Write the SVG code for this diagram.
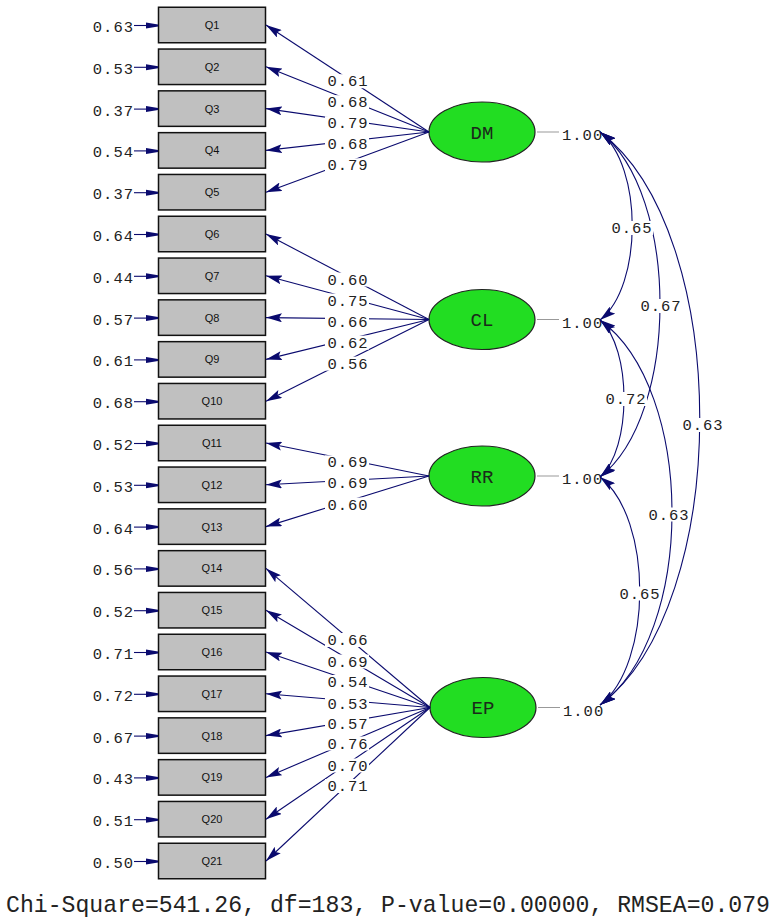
<svg xmlns="http://www.w3.org/2000/svg" width="777" height="923" viewBox="0 0 777 923">
<style>
.box{fill:#c0c0c0;stroke:#111;stroke-width:1.5}
.lat{fill:#22dd22;stroke:#222;stroke-width:1.2}
.ln{stroke:#0a0a6e;stroke-width:1.1;fill:none}
.gl{stroke:#999;stroke-width:1;fill:none}
.num{font-family:"Liberation Mono","DejaVu Sans Mono",monospace;font-size:15.5px;letter-spacing:1px;fill:#222}
.mid{text-anchor:middle}
.end{text-anchor:end}
.qt{font-family:"Liberation Sans",Arial,sans-serif;font-size:11px;fill:#111;text-anchor:middle}
.lt{font-family:"Liberation Mono","DejaVu Sans Mono",monospace;font-size:19px;fill:#1a2a1a;text-anchor:middle}
.bg{fill:#fff}
.fit{font-family:"Liberation Mono","DejaVu Sans Mono",monospace;font-size:23.2px;fill:#222}
</style>
<defs>
<marker id="ah" viewBox="0 0 16 9" refX="16" refY="4.5" markerWidth="16" markerHeight="9" markerUnits="userSpaceOnUse" orient="auto-start-reverse"><path d="M0,0 L16,4.5 L0,9 L3,4.5 z" fill="#0a0a6e"/></marker>
<marker id="eh" viewBox="0 0 12 7" refX="12" refY="3.5" markerWidth="12" markerHeight="7" markerUnits="userSpaceOnUse" orient="auto"><path d="M0,0.5 L12,2.5 L12,4.5 L0,6.5 z" fill="#0a0a6e"/></marker>
</defs>
<rect width="777" height="923" fill="#fff"/>
<g id="nodes">
<g id="Q1"><rect class="box" x="158.5" y="7.25" width="107" height="35.5"/><text class="qt" x="212" y="29">Q1</text></g>
<g id="Q2"><rect class="box" x="158.5" y="49.05" width="107" height="35.5"/><text class="qt" x="212" y="70.8">Q2</text></g>
<g id="Q3"><rect class="box" x="158.5" y="90.85" width="107" height="35.5"/><text class="qt" x="212" y="112.6">Q3</text></g>
<g id="Q4"><rect class="box" x="158.5" y="132.65" width="107" height="35.5"/><text class="qt" x="212" y="154.4">Q4</text></g>
<g id="Q5"><rect class="box" x="158.5" y="174.45" width="107" height="35.5"/><text class="qt" x="212" y="196.2">Q5</text></g>
<g id="Q6"><rect class="box" x="158.5" y="216.25" width="107" height="35.5"/><text class="qt" x="212" y="238">Q6</text></g>
<g id="Q7"><rect class="box" x="158.5" y="258.05" width="107" height="35.5"/><text class="qt" x="212" y="279.8">Q7</text></g>
<g id="Q8"><rect class="box" x="158.5" y="299.85" width="107" height="35.5"/><text class="qt" x="212" y="321.6">Q8</text></g>
<g id="Q9"><rect class="box" x="158.5" y="341.65" width="107" height="35.5"/><text class="qt" x="212" y="363.4">Q9</text></g>
<g id="Q10"><rect class="box" x="158.5" y="383.45" width="107" height="35.5"/><text class="qt" x="212" y="405.2">Q10</text></g>
<g id="Q11"><rect class="box" x="158.5" y="425.25" width="107" height="35.5"/><text class="qt" x="212" y="447">Q11</text></g>
<g id="Q12"><rect class="box" x="158.5" y="467.05" width="107" height="35.5"/><text class="qt" x="212" y="488.8">Q12</text></g>
<g id="Q13"><rect class="box" x="158.5" y="508.85" width="107" height="35.5"/><text class="qt" x="212" y="530.6">Q13</text></g>
<g id="Q14"><rect class="box" x="158.5" y="550.65" width="107" height="35.5"/><text class="qt" x="212" y="572.4">Q14</text></g>
<g id="Q15"><rect class="box" x="158.5" y="592.45" width="107" height="35.5"/><text class="qt" x="212" y="614.2">Q15</text></g>
<g id="Q16"><rect class="box" x="158.5" y="634.25" width="107" height="35.5"/><text class="qt" x="212" y="656">Q16</text></g>
<g id="Q17"><rect class="box" x="158.5" y="676.05" width="107" height="35.5"/><text class="qt" x="212" y="697.8">Q17</text></g>
<g id="Q18"><rect class="box" x="158.5" y="717.85" width="107" height="35.5"/><text class="qt" x="212" y="739.6">Q18</text></g>
<g id="Q19"><rect class="box" x="158.5" y="759.65" width="107" height="35.5"/><text class="qt" x="212" y="781.4">Q19</text></g>
<g id="Q20"><rect class="box" x="158.5" y="801.45" width="107" height="35.5"/><text class="qt" x="212" y="823.2">Q20</text></g>
<g id="Q21"><rect class="box" x="158.5" y="843.25" width="107" height="35.5"/><text class="qt" x="212" y="865">Q21</text></g>
<g id="DM"><ellipse class="lat" cx="482" cy="132" rx="53" ry="30"/><text class="lt" x="482" y="138.5">DM</text></g>
<g id="CL"><ellipse class="lat" cx="482" cy="319.5" rx="53" ry="30"/><text class="lt" x="482" y="326">CL</text></g>
<g id="RR"><ellipse class="lat" cx="482" cy="476" rx="53" ry="30"/><text class="lt" x="482" y="482.5">RR</text></g>
<g id="EP"><ellipse class="lat" cx="483" cy="707.5" rx="53" ry="30"/><text class="lt" x="483" y="714">EP</text></g>
</g>
<g id="variances">
<path class="gl" d="M537,132 H559 M537,319.5 H559 M537,476 H559 M538,707.5 H560"/>
<text class="num" x="562" y="140">1.00</text>
<text class="num" x="562" y="327.5">1.00</text>
<text class="num" x="562" y="484">1.00</text>
<text class="num" x="563" y="715.5">1.00</text>
</g>
<g id="connectors">
<g class="ln" marker-end="url(#eh)">
<path d="M134,25.5 H158"/><path d="M134,67.3 H158"/><path d="M134,109.1 H158"/><path d="M134,150.9 H158"/><path d="M134,192.7 H158"/>
<path d="M134,234.5 H158"/><path d="M134,276.3 H158"/><path d="M134,318.1 H158"/><path d="M134,359.9 H158"/><path d="M134,401.7 H158"/>
<path d="M134,443.5 H158"/><path d="M134,485.3 H158"/><path d="M134,527.1 H158"/><path d="M134,568.9 H158"/><path d="M134,610.7 H158"/>
<path d="M134,652.5 H158"/><path d="M134,694.3 H158"/><path d="M134,736.1 H158"/><path d="M134,777.9 H158"/><path d="M134,819.7 H158"/>
<path d="M134,861.5 H158"/>
</g>
<g class="ln" marker-end="url(#ah)">
<path d="M429,132 L266,25"/><path d="M429,132 L266,66.8"/><path d="M429,132 L266,108.6"/><path d="M429,132 L266,150.4"/><path d="M429,132 L266,192.2"/>
<path d="M429,319.5 L266,234"/><path d="M429,319.5 L266,275.8"/><path d="M429,319.5 L266,317.6"/><path d="M429,319.5 L266,359.4"/><path d="M429,319.5 L266,401.2"/>
<path d="M429,476 L266,443"/><path d="M429,476 L266,484.8"/><path d="M429,476 L266,526.6"/>
<path d="M430,707.5 L266,568.4"/><path d="M430,707.5 L266,610.2"/><path d="M430,707.5 L266,652"/><path d="M430,707.5 L266,693.8"/><path d="M430,707.5 L266,735.6"/><path d="M430,707.5 L266,777.4"/><path d="M430,707.5 L266,819.2"/><path d="M430,707.5 L266,861"/>
</g>
<g class="ln" marker-start="url(#ah)" marker-end="url(#ah)">
<path d="M600,132 C643,166 643,286 600,320"/>
<path d="M600,132 C680,194 680,415 600,477"/>
<path d="M600,132 C733,232 733,605 600,705"/>
<path d="M600,320 C632,348 632,449 600,477"/>
<path d="M600,320 C696,390 696,635 600,705"/>
<path d="M600,477 C653,518 653,664 600,705"/>
</g>
</g>
<g id="error-labels" class="num end">
<text x="134" y="32">0.63</text><text x="134" y="73.8">0.53</text><text x="134" y="115.6">0.37</text><text x="134" y="157.4">0.54</text><text x="134" y="199.2">0.37</text>
<text x="134" y="241">0.64</text><text x="134" y="282.8">0.44</text><text x="134" y="324.6">0.57</text><text x="134" y="366.4">0.61</text><text x="134" y="408.2">0.68</text>
<text x="134" y="450">0.52</text><text x="134" y="491.8">0.53</text><text x="134" y="533.6">0.64</text><text x="134" y="575.4">0.56</text><text x="134" y="617.2">0.52</text>
<text x="134" y="659">0.71</text><text x="134" y="700.8">0.72</text><text x="134" y="742.6">0.67</text><text x="134" y="784.4">0.43</text><text x="134" y="826.2">0.51</text>
<text x="134" y="868">0.50</text>
</g>
<g id="loading-labels">
<g class="bg">
<rect x="325" y="74.2" width="44" height="14"/><rect x="325" y="95.2" width="44" height="14"/><rect x="325" y="116.2" width="44" height="14"/><rect x="325" y="137.3" width="44" height="14"/><rect x="325" y="158.3" width="44" height="14"/>
<rect x="325" y="272.5" width="44" height="14"/><rect x="325" y="293.5" width="44" height="14"/><rect x="325" y="314.5" width="44" height="14"/><rect x="325" y="335.6" width="44" height="14"/><rect x="325" y="356.6" width="44" height="14"/>
<rect x="325" y="455.4" width="44" height="14"/><rect x="325" y="476.4" width="44" height="14"/><rect x="325" y="497.5" width="44" height="14"/>
<rect x="325" y="633" width="44" height="14"/><rect x="325" y="654.5" width="44" height="14"/><rect x="325" y="675" width="44" height="14"/><rect x="325" y="696.5" width="44" height="14"/><rect x="325" y="716.5" width="44" height="14"/><rect x="325" y="736.5" width="44" height="14"/><rect x="325" y="758.5" width="44" height="14"/><rect x="325" y="779" width="44" height="14"/>
</g>
<g class="num mid">
<text x="348" y="86.2">0.61</text><text x="348" y="107.2">0.68</text><text x="348" y="128.2">0.79</text><text x="348" y="149.3">0.68</text><text x="348" y="170.3">0.79</text>
<text x="348" y="284.5">0.60</text><text x="348" y="305.5">0.75</text><text x="348" y="326.5">0.66</text><text x="348" y="347.6">0.62</text><text x="348" y="368.6">0.56</text>
<text x="348" y="467.4">0.69</text><text x="348" y="488.4">0.69</text><text x="348" y="509.5">0.60</text>
<text x="348" y="645">0.66</text><text x="348" y="666.5">0.69</text><text x="348" y="687">0.54</text><text x="348" y="708.5">0.53</text><text x="348" y="728.5">0.57</text><text x="348" y="748.5">0.76</text><text x="348" y="770.5">0.70</text><text x="348" y="791">0.71</text>
</g>
</g>
<g id="correlation-labels">
<g class="bg">
<rect x="609" y="221" width="44" height="14"/>
<rect x="638" y="299" width="44" height="14"/>
<rect x="680" y="418" width="44" height="14"/>
<rect x="603" y="392" width="44" height="14"/>
<rect x="646" y="507.5" width="44" height="14"/>
<rect x="617" y="586.5" width="44" height="14"/>
</g>
<g class="num mid">
<text x="632" y="233">0.65</text>
<text x="661" y="311">0.67</text>
<text x="703" y="430">0.63</text>
<text x="626" y="404">0.72</text>
<text x="669" y="519.5">0.63</text>
<text x="640" y="598.5">0.65</text>
</g>
</g>
<text class="fit" x="6" y="911.5" textLength="764" lengthAdjust="spacingAndGlyphs">Chi-Square=541.26, df=183, P-value=0.00000, RMSEA=0.079</text>
</svg>
